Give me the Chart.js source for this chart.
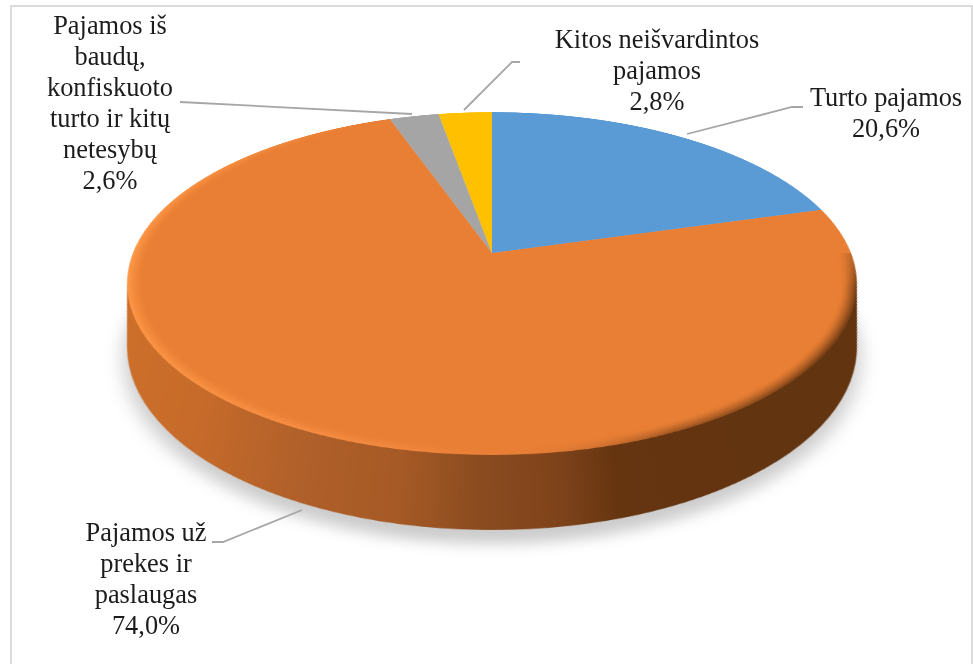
<!DOCTYPE html>
<html lang="lt">
<head>
<meta charset="utf-8">
<title>Pajamos</title>
<script src="https://cdn.jsdelivr.net/npm/chart.js@4/dist/chart.umd.min.js"></script>
<style>
  html, body { margin: 0; padding: 0; width: 973px; height: 664px; overflow: hidden; background: #fff; }
  #frame { position: absolute; left: 10px; top: 5px; width: 959px; height: 700px; border: 2px solid #dcdcdc; box-sizing: content-box; }
  #pie { position: absolute; left: 112px; top: -127px; transform-origin: 380px 380px; transform: perspective(1788px) rotateX(62.46deg); }
  #leaders { position: absolute; left: 0; top: 0; }
  .lbl { position: absolute; transform: translateX(-50%); text-align: center; white-space: nowrap; font-family: "Liberation Serif", serif; font-size: 26.4px; line-height: 31px; color: #1c1c1c; }
</style>
</head>
<body>
<div id="frame"></div>
<canvas id="pie" width="760" height="1000"></canvas>
<svg id="leaders" width="973" height="664"></svg>
<script>
// chart data
const categories = ["Turto pajamos", "Pajamos už prekes ir paslaugas", "Pajamos iš baudų, konfiskuoto turto ir kitų netesybų", "Kitos neišvardintos pajamos"];
const values = [20.6, 74.0, 2.6, 2.8];
const colors = ["#5b9bd5", "#e97f34", "#a5a5a5", "#ffc000"];
const labelLines = [
  ["Turto pajamos"],
  ["Pajamos už", "prekes ir", "paslaugas"],
  ["Pajamos iš", "baudų,", "konfiskuoto", "turto ir kitų", "netesybų"],
  ["Kitos neišvardintos", "pajamos"]
];

// layout of labels, center x and top y
const labelX = [886, 146, 110, 657];
const labelY = [82, 517, 10, 24];
const leaderLines = ["687,134 792,107 803,107", "302,510 223,542 212,542", "180,102 412,114", "464,110 512,62 520,62"];

// side wall colours, offset from center : colour
const wallOffsets = [-325, -251, -151, -73, -10, 54, 100, 360];
const wallColors = ["#cc6f2b", "#c76b2a", "#b0602a", "#a65a25", "#8b4c20", "#7f431b", "#653510", "#623410"];

// rim bevel around the big slice: angle in degrees, rgb, strength
const rimAngles = [0, 12, 35, 65, 85, 105, 135, 180, 215, 245, 360];
const rimColors = ["110,58,20", "100,52,16", "100,52,16", "120,64,24", "230,125,60", "255,150,78", "255,152,72", "255,152,72", "255,152,72", "255,152,72", "110,58,20"];
const rimAlpha = [0.25, 0.8, 0.8, 0.6, 0.25, 0.45, 0.75, 1, 0.6, 0, 0];

const dpr = 2;
const wallSteps = 70;
const wallDrop = 0.3487;  // how far bottom of the wall goes down, part of radius
const wallShrink = 0.062;

const depthPlugin = {
  id: 'depth',
  beforeDatasetsDraw(chart) {
    const ctx = chart.ctx;
    const arc = chart.getDatasetMeta(0).data[1];
    const R = arc.outerRadius;
    const grad = ctx.createLinearGradient(arc.x - 370, 0, arc.x + 370, 0);
    wallOffsets.forEach((o, i) => grad.addColorStop((o + 370) / 740, wallColors[i]));
    ctx.save();
    ctx.fillStyle = grad;
    for (let i = wallSteps; i >= 1; i--) {
      const t = i / wallSteps;
      if (i === wallSteps) {
        ctx.shadowColor = 'rgba(0,0,0,0.2)';
        ctx.shadowBlur = 34;
        ctx.shadowOffsetY = 36;
      } else {
        ctx.shadowColor = 'transparent';
      }
      const cy = arc.y + wallDrop * R * t;
      ctx.beginPath();
      ctx.moveTo(arc.x, cy);
      ctx.arc(arc.x, cy, R * (1 - wallShrink * t), arc.startAngle, arc.endAngle);
      ctx.closePath();
      ctx.fill();
    }
    ctx.restore();
  },
  afterDatasetsDraw(chart) {
    // soft bevel on the rim of the big slice
    const ctx = chart.ctx;
    const arc = chart.getDatasetMeta(0).data[1];
    const R = arc.outerRadius;
    const rings = 9;
    ctx.save();
    ctx.lineWidth = 1.8;
    for (let i = 0; i < rings; i++) {
      const a = Math.pow(1 - i / rings, 1.6);
      const grad = ctx.createConicGradient(0, arc.x, arc.y);
      rimAngles.forEach((ang, k) => grad.addColorStop(ang / 360, `rgba(${rimColors[k]},${rimAlpha[k] * a})`));
      ctx.strokeStyle = grad;
      ctx.beginPath();
      ctx.arc(arc.x, arc.y, R - 0.9 - i * 1.6, arc.startAngle + 0.01, arc.endAngle - 0.01);
      ctx.stroke();
    }
    ctx.restore();
  }
};

const pieChart = new Chart(document.getElementById('pie'), {
  type: 'pie',
  data: {
    labels: categories,
    datasets: [{ data: values, backgroundColor: colors, borderWidth: 0 }]
  },
  options: {
    responsive: false,
    animation: false,
    devicePixelRatio: dpr,
    layout: { padding: { left: 21, right: 21, top: 21, bottom: 261 } },
    plugins: { legend: { display: false }, tooltip: { enabled: false } }
  },
  plugins: [depthPlugin]
});
</script>
<script>
// labels and leader lines sit flat above the tilted pie
const svg = document.getElementById('leaders');
leaderLines.forEach(pts => {
  const line = document.createElementNS('http://www.w3.org/2000/svg', 'polyline');
  line.setAttribute('points', pts);
  line.setAttribute('fill', 'none');
  line.setAttribute('stroke', '#a6a6a6');
  line.setAttribute('stroke-width', '1.8');
  svg.appendChild(line);
});
categories.forEach((c, i) => {
  const div = document.createElement('div');
  div.className = 'lbl';
  div.style.left = labelX[i] + 'px';
  div.style.top = labelY[i] + 'px';
  const pct = values[i].toFixed(1).replace('.', ',') + '%';
  div.innerHTML = labelLines[i].concat(pct).join('<br>');
  document.body.appendChild(div);
});
</script>
</body>
</html>
